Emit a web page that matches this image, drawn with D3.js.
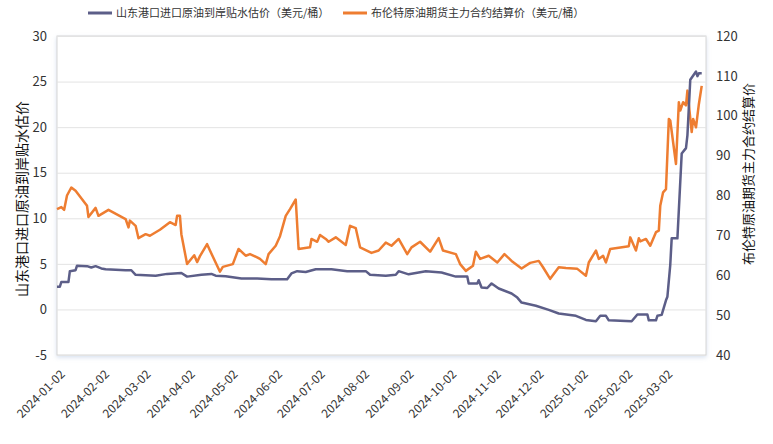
<!DOCTYPE html>
<html>
<head>
<meta charset="utf-8">
<script src="https://cdn.jsdelivr.net/npm/d3@7"></script>
<style>
    body { margin: 0; background: #fff; }
    text { font-family: "Noto Sans CJK SC", "Noto Sans", sans-serif; }
</style>
</head>
<body>
<div id="chart"></div>
<script>
// series names
var seriesNames = ["山东港口进口原油到岸贴水估价（美元/桶）", "布伦特原油期货主力合约结算价（美元/桶）"];
var axisTitles = ["山东港口进口原油到岸贴水估价", "布伦特原油期货主力合约结算价"];

// 山东港口贴水 (left axis)
var shandongDates = ["2024-01-02", "2024-01-04", "2024-01-05", "2024-01-10", "2024-01-11", "2024-01-15", "2024-01-16",
    "2024-01-23", "2024-01-26", "2024-01-29", "2024-02-02", "2024-02-05", "2024-02-19", "2024-02-23", "2024-02-26",
    "2024-03-11", "2024-03-19", "2024-03-29", "2024-04-02", "2024-04-12", "2024-04-19", "2024-04-22", "2024-04-29",
    "2024-05-10", "2024-05-21", "2024-05-31", "2024-06-11", "2024-06-14", "2024-06-18", "2024-06-24", "2024-07-01",
    "2024-07-12", "2024-07-23", "2024-08-05", "2024-08-08", "2024-08-19", "2024-08-26", "2024-08-28", "2024-09-04",
    "2024-09-16", "2024-09-27", "2024-10-07", "2024-10-15", "2024-10-16", "2024-10-22", "2024-10-23", "2024-10-25",
    "2024-10-29", "2024-11-01", "2024-11-06", "2024-11-15", "2024-11-19", "2024-11-22", "2024-12-02", "2024-12-11",
    "2024-12-18", "2024-12-30", "2025-01-06", "2025-01-13", "2025-01-16", "2025-01-20", "2025-01-22", "2025-02-07",
    "2025-02-11", "2025-02-18", "2025-02-19", "2025-02-24", "2025-02-25", "2025-02-28", "2025-03-03", "2025-03-04",
    "2025-03-06", "2025-03-07", "2025-03-11", "2025-03-14", "2025-03-17", "2025-03-18", "2025-03-20", "2025-03-24",
    "2025-03-25", "2025-03-26", "2025-03-28"];
var shandongValues = [2.5, 2.5, 3.0, 3.0, 4.2, 4.3, 4.8,
    4.75, 4.6, 4.75, 4.5, 4.4, 4.3, 4.3, 3.8,
    3.7, 3.9, 4.0, 3.6, 3.8, 3.9, 3.7, 3.65,
    3.4, 3.4, 3.3, 3.3, 3.95, 4.2, 4.1, 4.4,
    4.4, 4.2, 4.2, 3.8, 3.7, 3.8, 4.2, 3.85,
    4.2, 4.05, 3.6, 3.6, 2.85, 2.85, 3.2, 2.4,
    2.35, 2.85, 2.3, 1.75, 1.3, 0.75, 0.4, -0.05,
    -0.45, -0.7, -1.15, -1.3, -0.7, -0.7, -1.2, -1.3,
    -0.55, -0.55, -1.2, -1.2, -0.7, -0.6, 1.0, 1.4,
    4.9, 7.8, 7.8, 17.1, 17.7, 19.1, 25.2, 26.1,
    25.6, 25.9, 25.9];

// 布伦特结算价 (right axis)
var brentDates = ["2024-01-02", "2024-01-05", "2024-01-07", "2024-01-09", "2024-01-12", "2024-01-15", "2024-01-23",
    "2024-01-24", "2024-01-29", "2024-01-31", "2024-02-07", "2024-02-19", "2024-02-21", "2024-02-22", "2024-02-26",
    "2024-02-28", "2024-03-04", "2024-03-07", "2024-03-14", "2024-03-21", "2024-03-25", "2024-03-26", "2024-03-28",
    "2024-03-29", "2024-04-02", "2024-04-07", "2024-04-09", "2024-04-11", "2024-04-16", "2024-04-18", "2024-04-25",
    "2024-04-27", "2024-05-04", "2024-05-08", "2024-05-13", "2024-05-16", "2024-05-21", "2024-05-23", "2024-05-27",
    "2024-05-29", "2024-06-03", "2024-06-06", "2024-06-10", "2024-06-13", "2024-06-17", "2024-06-19", "2024-06-27",
    "2024-06-28", "2024-07-02", "2024-07-04", "2024-07-08", "2024-07-10", "2024-07-15", "2024-07-22", "2024-07-25",
    "2024-07-29", "2024-08-01", "2024-08-09", "2024-08-14", "2024-08-19", "2024-08-23", "2024-08-28", "2024-09-03",
    "2024-09-06", "2024-09-12", "2024-09-19", "2024-09-25", "2024-09-28", "2024-10-07", "2024-10-10", "2024-10-14",
    "2024-10-19", "2024-10-21", "2024-10-24", "2024-10-30", "2024-11-05", "2024-11-10", "2024-11-15", "2024-11-22",
    "2024-11-28", "2024-12-04", "2024-12-07", "2024-12-12", "2024-12-18", "2024-12-23", "2024-12-31", "2025-01-06",
    "2025-01-08", "2025-01-13", "2025-01-15", "2025-01-18", "2025-01-20", "2025-01-23", "2025-02-05", "2025-02-06",
    "2025-02-10", "2025-02-12", "2025-02-13", "2025-02-17", "2025-02-20", "2025-02-24", "2025-02-26", "2025-02-27",
    "2025-03-01", "2025-03-03", "2025-03-05", "2025-03-06", "2025-03-10", "2025-03-12", "2025-03-13", "2025-03-15",
    "2025-03-17", "2025-03-18", "2025-03-21", "2025-03-22", "2025-03-24", "2025-03-26", "2025-03-28"];
var brentValues = [76.6, 77.1, 76.4, 80.0, 82.0, 81.2, 77.4,
    74.6, 76.9, 74.9, 76.4, 74.1, 72.0, 73.7, 72.4,
    69.3, 70.3, 69.9, 71.4, 73.3, 72.6, 74.9, 74.9,
    70.3, 62.8, 65.0, 63.3, 64.8, 67.8, 66.2, 60.9,
    62.1, 62.8, 66.6, 64.9, 65.3, 64.5, 64.1, 62.8,
    65.3, 67.4, 69.8, 74.9, 76.6, 79.0, 66.6, 67.0,
    69.1, 68.4, 70.1, 69.1, 68.4, 69.5, 67.6, 72.4,
    71.8, 67.0, 65.6, 66.2, 68.2, 67.4, 69.1, 65.3,
    67.0, 68.4, 65.9, 69.3, 66.2, 65.3, 62.8, 61.1,
    62.4, 65.9, 64.1, 64.9, 63.2, 65.3, 63.6, 61.7,
    63.1, 63.6, 62.0, 59.1, 62.0, 61.8, 61.6, 59.9,
    63.2, 66.2, 64.1, 64.9, 63.2, 66.6, 67.3, 69.5,
    66.2, 69.3, 68.5, 69.1, 67.4, 70.8, 71.2, 77.4,
    80.8, 81.6, 99.2, 98.8, 87.9, 103.4, 101.3, 103.4,
    102.6, 106.3, 95.9, 99.2, 97.1, 102.9, 107.5];

// axis ticks
var leftTicks = [-5, 0, 5, 10, 15, 20, 25, 30];
var rightTicks = [40, 50, 60, 70, 80, 90, 100, 110, 120];
var xTickLabels = ["2024-01-02", "2024-02-02", "2024-03-02", "2024-04-02", "2024-05-02", "2024-06-02", "2024-07-02",
    "2024-08-02", "2024-09-02", "2024-10-02", "2024-11-02", "2024-12-02", "2025-01-02", "2025-02-02", "2025-03-02"];
var xStart = "2024-01-02", xEnd = "2025-03-31";

var colors = ["#5c5e88", "#ee7d31"];

var W = 773, H = 444;
var margin = { top: 36, right: 67, bottom: 89, left: 57 },
    width = W - margin.left - margin.right,
    height = H - margin.top - margin.bottom;

var parse = d3.timeParse("%Y-%m-%d");

var shandong = shandongDates.map(function(d, i) { return { date: parse(d), value: shandongValues[i] }; });
var brent = brentDates.map(function(d, i) { return { date: parse(d), value: brentValues[i] }; });

var svg = d3.select("#chart").append("svg")
    .attr("width", W)
    .attr("height", H);

// shadow for the plot frame
var defs = svg.append("defs");
var filter = defs.append("filter").attr("id", "shadow")
    .attr("x", "-5%").attr("y", "-5%").attr("width", "110%").attr("height", "115%");
filter.append("feDropShadow")
    .attr("dx", 0).attr("dy", 2).attr("stdDeviation", 2)
    .attr("flood-color", "#8aa6d0").attr("flood-opacity", 0.35);

var g = svg.append("g")
    .attr("transform", "translate(" + margin.left + "," + margin.top + ")");

// scales
var x = d3.scaleTime()
    .domain([parse(xStart), parse(xEnd)])
    .range([0, width]);

var yLeft = d3.scaleLinear()
    .domain([-5, 30])
    .range([height, 0]);

var yRight = d3.scaleLinear()
    .domain([40, 120])
    .range([height, 0]);

// plain numbers, hyphen minus like the original
var numFmt = function(d) { return String(d); };

// plot frame
g.append("rect")
    .attr("x", 0).attr("y", 0)
    .attr("width", width).attr("height", height)
    .attr("fill", "#fff")
    .attr("stroke", "#d6d6d6")
    .attr("filter", "url(#shadow)");

// horizontal grid
g.append("g")
    .attr("class", "grid")
    .call(d3.axisLeft(yLeft).tickValues(leftTicks).tickSize(-width).tickFormat(""))
    .call(function(s) {
        s.select(".domain").remove();
        s.selectAll("line").attr("stroke", "#e3e3e3");
    });

// left axis labels
g.append("g")
    .call(d3.axisLeft(yLeft).tickValues(leftTicks).tickSize(0).tickPadding(10).tickFormat(numFmt))
    .call(function(s) {
        s.select(".domain").remove();
        s.selectAll("text").attr("fill", "#333").style("font-size", "13px");
    });

// right axis labels
g.append("g")
    .attr("transform", "translate(" + width + ",0)")
    .call(d3.axisRight(yRight).tickValues(rightTicks).tickSize(0).tickPadding(10).tickFormat(numFmt))
    .call(function(s) {
        s.select(".domain").remove();
        s.selectAll("text").attr("fill", "#333").style("font-size", "13px");
    });

// x axis labels, rotated
var fmt = d3.timeFormat("%Y-%m-%d");
g.append("g")
    .attr("transform", "translate(0," + height + ")")
    .call(d3.axisBottom(x).tickValues(xTickLabels.map(parse)).tickSize(0).tickFormat(fmt))
    .call(function(s) {
        s.select(".domain").remove();
        s.selectAll("text")
            .attr("fill", "#333")
            .style("font-size", "12px")
            .attr("text-anchor", "end")
            .attr("dy", "0.35em")
            .attr("transform", "translate(3,15) rotate(-45)");
    });

// axis titles
svg.append("text")
    .attr("transform", "translate(22,199) rotate(-90)")
    .attr("text-anchor", "middle")
    .attr("dy", "0.35em")
    .style("font-size", "14px")
    .attr("fill", "#111")
    .text(axisTitles[0]);

svg.append("text")
    .attr("transform", "translate(748,174) rotate(-90)")
    .attr("text-anchor", "middle")
    .attr("dy", "0.35em")
    .style("font-size", "13px")
    .attr("fill", "#111")
    .text(axisTitles[1]);

// lines
var lineLeft = d3.line()
    .x(function(d) { return x(d.date); })
    .y(function(d) { return yLeft(d.value); });

var lineRight = d3.line()
    .x(function(d) { return x(d.date); })
    .y(function(d) { return yRight(d.value); });

g.append("path")
    .datum(brent)
    .attr("fill", "none")
    .attr("stroke", colors[1])
    .attr("stroke-width", 2.5)
    .attr("stroke-linejoin", "round")
    .attr("d", lineRight);

g.append("path")
    .datum(shandong)
    .attr("fill", "none")
    .attr("stroke", colors[0])
    .attr("stroke-width", 2.5)
    .attr("stroke-linejoin", "round")
    .attr("d", lineLeft);

// legend
var legendX = [88, 343];
var legend = svg.selectAll(".legend")
    .data(seriesNames)
    .enter().append("g")
    .attr("class", "legend")
    .attr("transform", function(d, i) { return "translate(" + legendX[i] + ",13)"; });

legend.append("line")
    .attr("x1", 0).attr("x2", 24)
    .attr("stroke", function(d, i) { return colors[i]; })
    .attr("stroke-width", 3);

legend.append("text")
    .attr("x", 28)
    .attr("dy", "0.35em")
    .style("font-size", "11px")
    .attr("fill", "#333")
    .text(function(d) { return d; });
</script>
</body>
</html>
